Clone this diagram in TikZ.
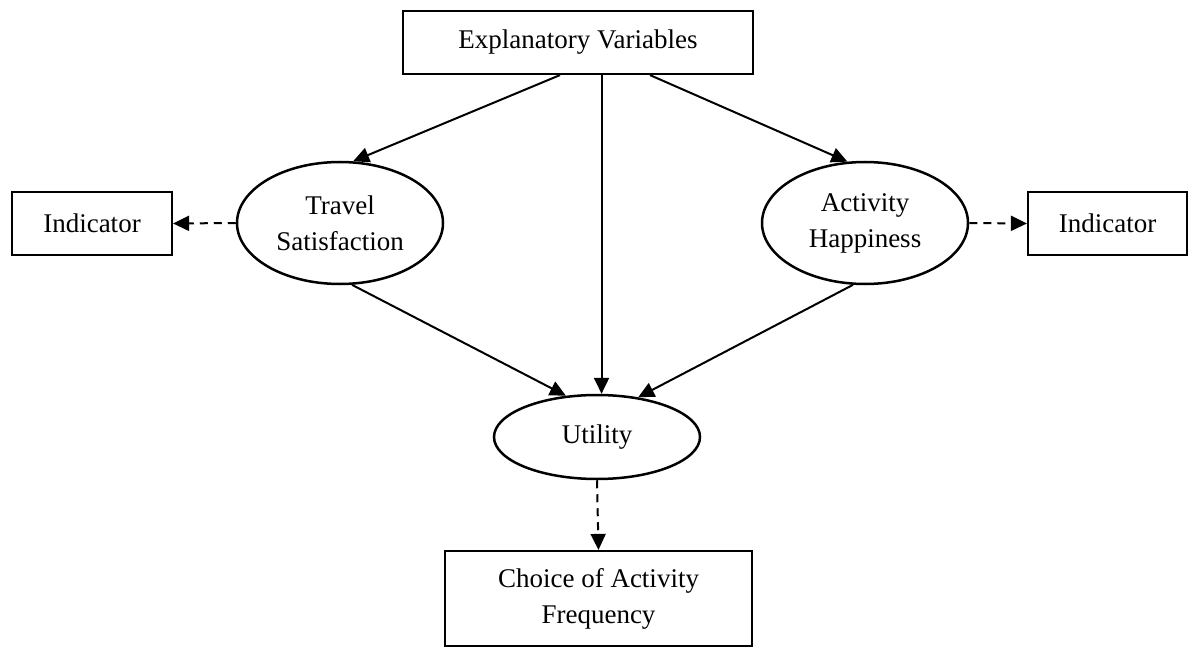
\documentclass[tikz,border=0pt]{standalone}
\usepackage{fontspec}
\setmainfont{Liberation Serif}
\usetikzlibrary{arrows.meta,shapes.geometric}
\begin{document}
\begin{tikzpicture}[x=1pt,y=-1pt,
  font=\fontsize{27}{36}\selectfont,
  box/.style={draw,line width=2.2pt,rectangle,inner sep=0pt,align=center},
  latent/.style={draw,line width=2.5pt,ellipse,inner sep=0pt,align=center},
  arr/.style={line width=2pt,-{Triangle[length=16pt,width=15pt]}},
  darr/.style={line width=2pt,dash pattern=on 8pt off 6pt,-{Triangle[length=16pt,width=15pt]}}]
  \useasboundingbox (0,0) rectangle (1190,647);
  % observed variables
  \node[box,minimum width=350pt,minimum height=63pt] (expl) at (578,42.5) {Explanatory Variables};
  \node[box,minimum width=160pt,minimum height=63pt] (indl) at (92,223.5) {Indicator};
  \node[box,minimum width=159pt,minimum height=63pt] (indr) at (1107.5,223.5) {Indicator};
  \node[box,minimum width=307pt,minimum height=95pt] (choice) at (598.5,598.5) {Choice of Activity\\Frequency};
  % latent variables
  \node[latent,minimum width=206pt,minimum height=122pt] (trav) at (340,223) {Travel\\Satisfaction};
  \node[latent,minimum width=206pt,minimum height=122pt] (act) at (865,223) {Activity\\Happiness};
  \node[latent,minimum width=206pt,minimum height=84pt] (util) at (597,437) {Utility};
  % structural relations
  \draw[arr] (expl.south -| 560,0) -- (trav.78);
  \draw[arr] (expl.south -| util.84) -- (util.84);
  \draw[arr] (expl.south -| 650,0) -- (act.106);
  \draw[arr] (trav.-79) -- (util.127);
  \draw[arr] (act.-101) -- (util.44);
  % measurement relations
  \draw[darr] (trav.west) -- (indl.east);
  \draw[darr] (act.east) -- (indr.west);
  \draw[darr] (util.south) -- (choice.north);
\end{tikzpicture}
\end{document}
